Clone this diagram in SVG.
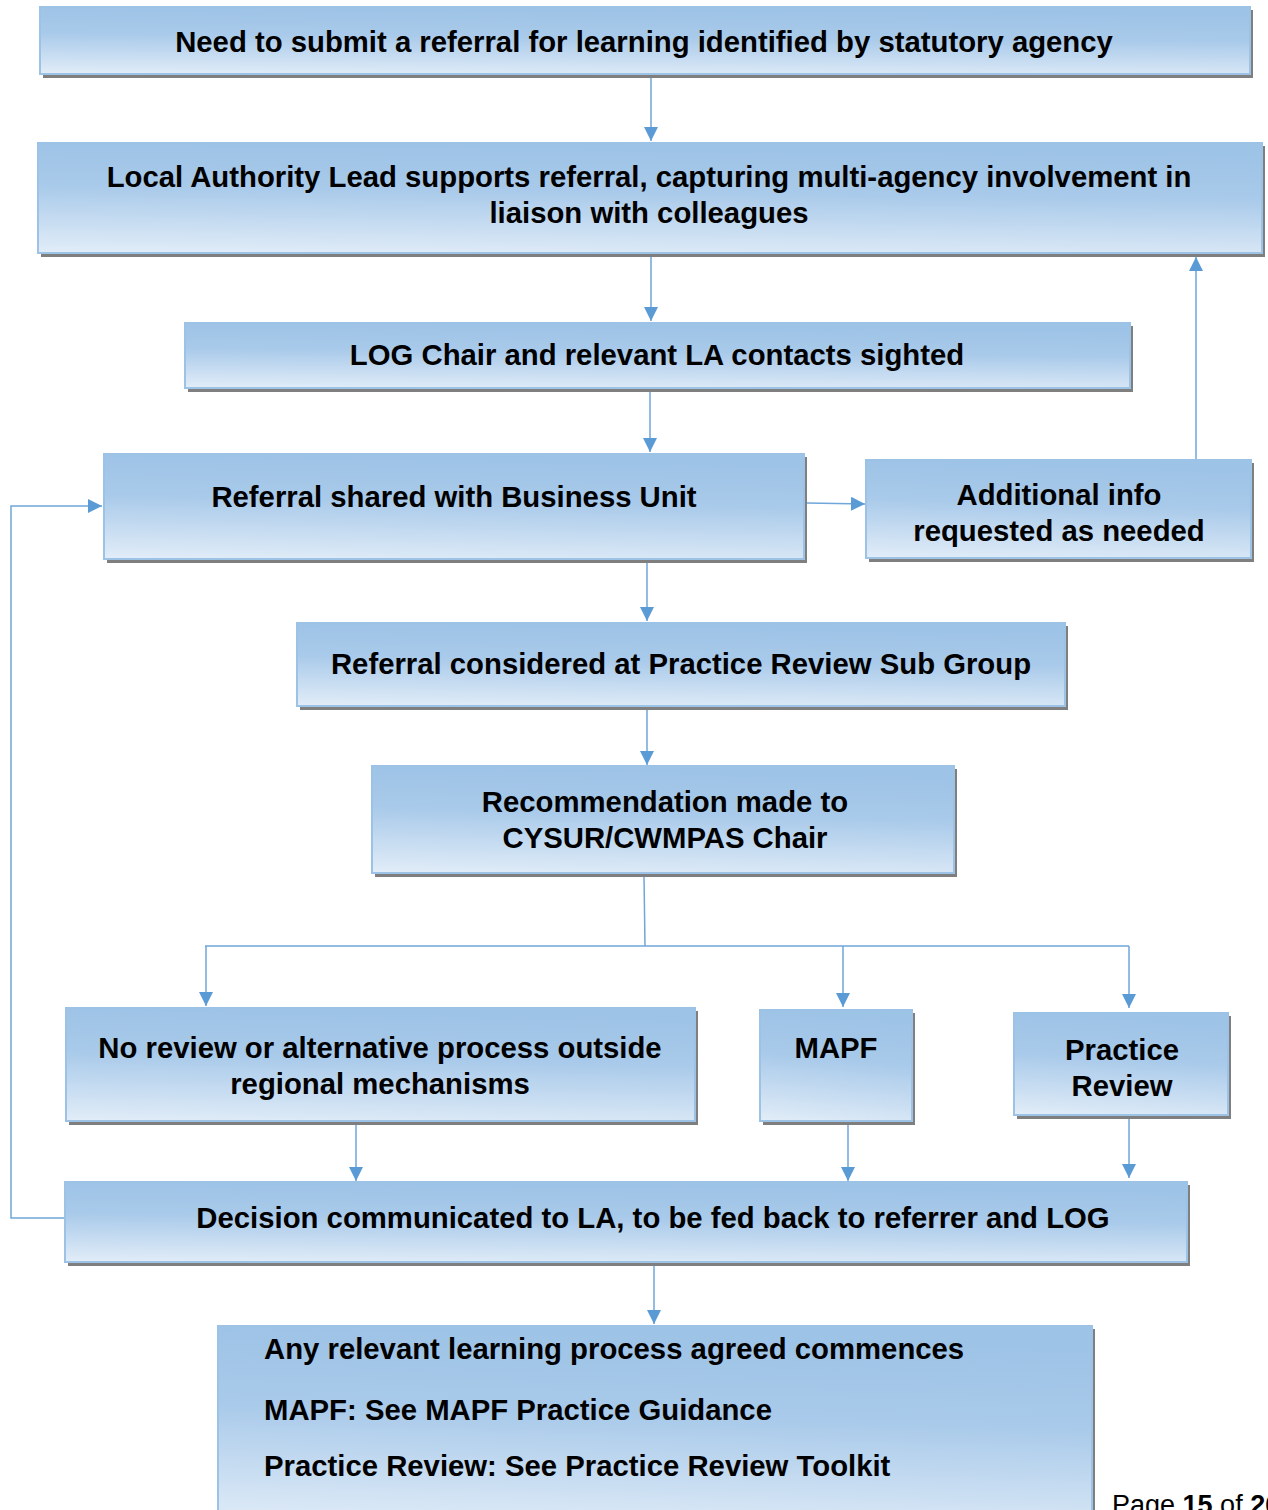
<svg xmlns="http://www.w3.org/2000/svg" width="1268" height="1510" viewBox="0 0 1268 1510">
<defs>
<linearGradient id="g" x1="0" y1="1" x2="0.12" y2="0">
<stop offset="0" stop-color="#e2edf8"/>
<stop offset="0.6" stop-color="#a9caea"/>
<stop offset="1" stop-color="#9dc3e6"/>
</linearGradient>
<marker id="a" viewBox="0 0 14 14" refX="14" refY="7" markerWidth="14" markerHeight="14" markerUnits="userSpaceOnUse" orient="auto">
<path d="M0,0 L14,7 L0,14 Z" fill="#5b9bd5"/>
</marker>
<style>
.sh{fill:#7f7f7f}
.bx{fill:url(#g);stroke:#9cc2e5;stroke-width:2}
.t{font-family:"Liberation Sans",Arial,sans-serif;font-weight:bold;font-size:29.3px;fill:#000;text-anchor:middle}
.tl{text-anchor:start}
.c{fill:none;stroke:#6fa6dc;stroke-width:1.5}
.ca{marker-end:url(#a)}
</style>
</defs>
<g id="connectors">
<line class="c ca" x1="651" y1="76" x2="651" y2="141"/>
<line class="c ca" x1="651" y1="254" x2="651" y2="321"/>
<line class="c ca" x1="650" y1="389" x2="650" y2="452"/>
<line class="c ca" x1="807" y1="503" x2="865" y2="504"/>
<line class="c ca" x1="1196" y1="459" x2="1196" y2="257"/>
<line class="c ca" x1="647" y1="561" x2="647" y2="621"/>
<line class="c ca" x1="647" y1="706" x2="647" y2="765"/>
<polyline class="c" points="644,876 645,946"/>
<polyline class="c" points="205,946 1129,946"/>
<line class="c ca" x1="206" y1="946" x2="206" y2="1006"/>
<line class="c ca" x1="843" y1="946" x2="843" y2="1007"/>
<line class="c ca" x1="1129" y1="946" x2="1129" y2="1008"/>
<line class="c ca" x1="356" y1="1123" x2="356" y2="1181"/>
<line class="c ca" x1="848" y1="1123" x2="848" y2="1181"/>
<line class="c ca" x1="1129" y1="1118" x2="1129" y2="1178"/>
<line class="c ca" x1="654" y1="1263" x2="654" y2="1324"/>
<polyline class="c ca" points="65,1218 11,1218 11,506 102,506"/>
</g>
<g id="n1"><rect class="sh" x="43" y="10" width="1210" height="68"/><rect class="bx" x="40" y="7" width="1210" height="67"/><text class="t" x="644" y="52">Need to submit a referral for learning identified by statutory agency</text></g>
<g id="n2"><rect class="sh" x="41" y="146" width="1224" height="111"/><rect class="bx" x="38" y="143" width="1224" height="110"/><text class="t" x="649" y="187">Local Authority Lead supports referral, capturing multi-agency involvement in</text><text class="t" x="649" y="223">liaison with colleagues</text></g>
<g id="n3"><rect class="sh" x="188" y="326" width="945" height="66"/><rect class="bx" x="185" y="323" width="945" height="65"/><text class="t" x="657" y="365">LOG Chair and relevant LA contacts sighted</text></g>
<g id="n4"><rect class="sh" x="107" y="457" width="700" height="106"/><rect class="bx" x="104" y="454" width="700" height="105"/><text class="t" x="454" y="507">Referral shared with Business Unit</text></g>
<g id="n5"><rect class="sh" x="869" y="463" width="385" height="99"/><rect class="bx" x="866" y="460" width="385" height="98"/><text class="t" x="1059" y="505">Additional info</text><text class="t" x="1059" y="541">requested as needed</text></g>
<g id="n6"><rect class="sh" x="300" y="626" width="768" height="84"/><rect class="bx" x="297" y="623" width="768" height="83"/><text class="t" x="681" y="674">Referral considered at Practice Review Sub Group</text></g>
<g id="n7"><rect class="sh" x="375" y="769" width="582" height="108"/><rect class="bx" x="372" y="766" width="582" height="107"/><text class="t" x="665" y="812">Recommendation made to</text><text class="t" x="665" y="848">CYSUR/CWMPAS Chair</text></g>
<g id="n8"><rect class="sh" x="69" y="1011" width="629" height="114"/><rect class="bx" x="66" y="1008" width="629" height="113"/><text class="t" x="380" y="1058">No review or alternative process outside</text><text class="t" x="380" y="1094">regional mechanisms</text></g>
<g id="n9"><rect class="sh" x="763" y="1013" width="152" height="112"/><rect class="bx" x="760" y="1010" width="152" height="111"/><text class="t" x="836" y="1058">MAPF</text></g>
<g id="n10"><rect class="sh" x="1017" y="1016" width="214" height="103"/><rect class="bx" x="1014" y="1013" width="214" height="102"/><text class="t" x="1122" y="1060">Practice</text><text class="t" x="1122" y="1096">Review</text></g>
<g id="n11"><rect class="sh" x="68" y="1185" width="1122" height="81"/><rect class="bx" x="65" y="1182" width="1122" height="80"/><text class="t" x="653" y="1228">Decision communicated to LA, to be fed back to referrer and LOG</text></g>
<g id="n12"><rect class="sh" x="221" y="1329" width="874" height="200"/><rect class="bx" x="218" y="1326" width="874" height="200"/><text class="t tl" x="264" y="1359">Any relevant learning process agreed commences</text><text class="t tl" x="264" y="1420">MAPF: See MAPF Practice Guidance</text><text class="t tl" x="264" y="1476">Practice Review: See Practice Review Toolkit</text></g>
<text x="1112" y="1514" font-family="Liberation Sans,Arial,sans-serif" font-size="27" fill="#000">Page <tspan font-weight="bold">15</tspan> of <tspan font-weight="bold">26</tspan></text>
</svg>
